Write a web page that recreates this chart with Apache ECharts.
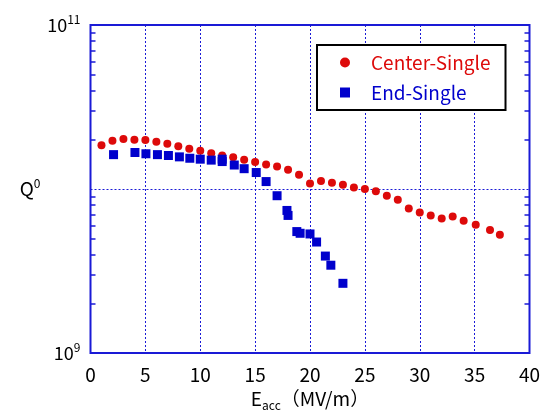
<!DOCTYPE html>
<html>
<head>
<meta charset="utf-8">
<script src="https://cdn.jsdelivr.net/npm/echarts@6/dist/echarts.min.js"></script>
<style>html,body{margin:0;padding:0;background:#fff;}#c{width:544px;height:410px;}</style>
</head>
<body>
<div id="c"></div>
<script>
const centerE = [1.0, 2.0, 3.0, 4.0, 5.0, 6.0, 7.0, 8.0, 9.0, 10.0, 11.0, 12.0, 13.0, 14.0, 15.0, 16.0, 17.0, 18.0, 19.0, 20.0, 21.0, 22.0, 23.0, 24.0, 25.0, 26.0, 27.0, 28.0, 29.0, 30.0, 31.0, 32.0, 33.0, 34.0, 35.1, 36.4, 37.3];
const centerQ = [1.85e10, 1.97e10, 2.02e10, 2.0e10, 1.99e10, 1.94e10, 1.89e10, 1.82e10, 1.76e10, 1.71e10, 1.65e10, 1.60e10, 1.56e10, 1.51e10, 1.46e10, 1.41e10, 1.37e10, 1.31e10, 1.22e10, 1.08e10, 1.12e10, 1.09e10, 1.06e10, 1.02e10, 1.0e10, 9.7e9, 9.1e9, 8.6e9, 7.6e9, 7.2e9, 6.9e9, 6.6e9, 6.8e9, 6.4e9, 6.06e9, 5.63e9, 5.26e9];
const endE = [2.1, 4.05, 5.05, 6.1, 7.1, 8.1, 9.05, 10.0, 11.0, 12.0, 12.0, 13.1, 14.0, 15.1, 16.0, 17.0, 17.9, 18.0, 18.8, 19.1, 20.0, 20.6, 21.4, 21.9, 23.0];
const endQ = [1.62e10, 1.67e10, 1.64e10, 1.62e10, 1.60e10, 1.57e10, 1.54e10, 1.52e10, 1.50e10, 1.52e10, 1.47e10, 1.40e10, 1.33e10, 1.26e10, 1.11e10, 9.1e9, 7.4e9, 6.9e9, 5.5e9, 5.37e9, 5.32e9, 4.75e9, 3.9e9, 3.43e9, 2.66e9];
const xTicks = [0, 5, 10, 15, 20, 25, 30, 35, 40];
const yLabelExps = [9, 11];
const minorTicks = [2e9,3e9,4e9,5e9,6e9,7e9,8e9,9e9,2e10,3e10,4e10,5e10,6e10,7e10,8e10,9e10];
const seriesNames = ['Center-Single', 'End-Single'];

const FONT = '"Noto Sans CJK JP", "Noto Sans", sans-serif';
const AX = '#1a1ad6';
const RED = '#dd0a0a';
const BLUE = '#0000cc';

const chart = echarts.init(document.getElementById('c'), null, {renderer: 'canvas'});

function yFmt(v) {
  const e = Math.round(Math.log10(v));
  if (yLabelExps.indexOf(e) < 0) return '';
  return '{a|10}{b|' + e + '}';
}
const yRich = {
  a: {fontSize: 18, fontFamily: FONT, color: '#000'},
  b: {fontSize: 12, fontFamily: FONT, color: '#000', padding: [0, 0, 12, 0]}
};
const tickAxis = (pos) => ({
  type: 'log', logBase: 10, min: 1e9, max: 1e11, position: pos,
  axisLine: {show: false},
  axisTick: {show: true, inside: true, length: 5, customValues: minorTicks, lineStyle: {color: AX, width: 1.5}},
  axisLabel: {show: false},
  splitLine: {show: false}
});

chart.setOption({
  animation: false,
  grid: {left: 90.5, right: 14.5, top: 25, bottom: 57, show: true, borderColor: AX, borderWidth: 2,
         backgroundColor: 'transparent', outerBoundsMode: 'none', containLabel: false},
  legend: {
    orient: 'vertical',
    left: 317, top: 45,
    padding: [8, 15, 8, 23],
    itemGap: 11,
    itemWidth: 10, itemHeight: 10,
    borderColor: '#000', borderWidth: 2,
    backgroundColor: '#fff',
    textStyle: {fontSize: 19, fontFamily: FONT, padding: [0, 0, 0, 16]},
    data: [
      {name: seriesNames[0], textStyle: {color: RED}},
      {name: seriesNames[1], textStyle: {color: BLUE}}
    ]
  },
  xAxis: {
    type: 'value', min: 0, max: 40, interval: 5,
    axisLine: {show: false},
    axisTick: {show: false},
    axisLabel: {color: '#000', fontSize: 19, fontFamily: FONT, margin: 12},
    splitLine: {show: true, lineStyle: {color: AX, type: [2, 2], width: 1}},
    name: '{e|E}{s|acc}{t|（MV/m）}',
    nameLocation: 'middle', nameGap: 32,
    nameTextStyle: {
      verticalAlign: 'top',
      rich: {
        e: {fontSize: 19, fontFamily: FONT, color: '#000'},
        s: {fontSize: 12, fontFamily: FONT, color: '#000', padding: [14, 0, 0, 0]},
        t: {fontSize: 19, fontFamily: FONT, color: '#000'}
      }
    }
  },
  yAxis: [
    {
      type: 'log', logBase: 10, min: 1e9, max: 1e11,
      axisLine: {show: false},
      axisTick: {show: false},
      axisLabel: {formatter: yFmt, rich: yRich, margin: 10, color: '#000'},
      splitLine: {show: true, lineStyle: {color: AX, type: [2, 2], width: 1}},
      name: '{q|Q}{z|0}',
      nameLocation: 'middle', nameRotate: 0, nameGap: 50,
      nameTextStyle: {
        rich: {
          q: {fontSize: 19, fontFamily: FONT, color: '#000'},
          z: {fontSize: 12, fontFamily: FONT, color: '#000', padding: [0, 0, 12, 0]}
        }
      }
    },
    tickAxis('left'),
    tickAxis('right')
  ],
  series: [
    {
      name: seriesNames[0], type: 'scatter', symbol: 'circle', symbolSize: 8,
      itemStyle: {color: RED, opacity: 1},
      data: centerE.map((e, i) => [e, centerQ[i]])
    },
    {
      name: seriesNames[1], type: 'scatter', symbol: 'rect', symbolSize: 9,
      itemStyle: {color: BLUE, opacity: 1},
      data: endE.map((e, i) => [e, endQ[i]])
    }
  ]
});
</script>
</body>
</html>
